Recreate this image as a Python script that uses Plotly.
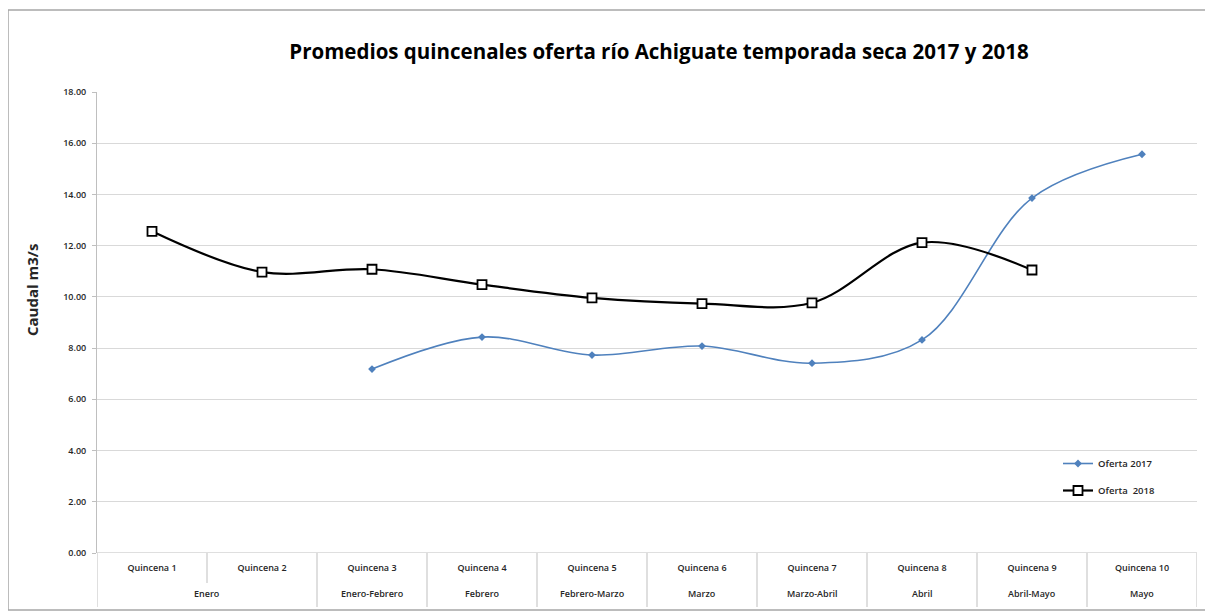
import plotly.graph_objects as go

categories = ["Quincena 1", "Quincena 2", "Quincena 3", "Quincena 4", "Quincena 5",
              "Quincena 6", "Quincena 7", "Quincena 8", "Quincena 9", "Quincena 10"]
months = ["Enero", "Enero-Febrero", "Febrero", "Febrero-Marzo", "Marzo",
          "Marzo-Abril", "Abril", "Abril-Mayo", "Mayo"]
month_pos = [0.5, 2, 3, 4, 5, 6, 7, 8, 9]
oferta_2017 = [None, None, 7.18, 8.43, 7.73, 8.08, 7.41, 8.32, 13.86, 15.57]
oferta_2018 = [12.56, 10.97, 11.08, 10.48, 9.96, 9.74, 9.77, 12.12, 11.05, None]
y_ticks = [0, 2, 4, 6, 8, 10, 12, 14, 16, 18]

GRID = "#d9d9d9"
AX = "#bfbfbf"
FONT = "Open Sans"
TXT = "#262626"

# page offset (body margin) compensation
OFF = 8
W, HGT = 1213 - OFF, 614 - OFF
ML, MT, MR, MB = 97 - OFF, 92 - OFF, 16, 61
PW = W - ML - MR
H = HGT - MT - MB

fig = go.Figure()
fig.add_trace(go.Scatter(
    x=categories, y=oferta_2017, name="Oferta 2017", mode="lines+markers",
    legendgroup="a",
    line=dict(color="#4f81bd", width=1.6, shape="spline", smoothing=1),
    marker=dict(symbol="diamond", size=6, color="#4f81bd"),
))
fig.add_trace(go.Scatter(
    x=categories, y=oferta_2018, name="Oferta  2018", mode="lines+markers",
    legendgroup="b",
    line=dict(color="#000000", width=2.2, shape="spline", smoothing=1),
    marker=dict(symbol="square", size=9, color="white", line=dict(color="black", width=1.8)),
))

row_px = 54
shapes = []
for i in range(11):
    xpos = -0.5 + i
    y1 = -row_px / H
    if i == 1:
        y1 = -30 / H
    shapes.append(dict(type="line", xref="x", yref="paper", x0=xpos, x1=xpos,
                       y0=0, y1=y1, line=dict(color=AX, width=1)))


def px_x(p):
    return (p - OFF - ML) / PW


def px_y(p):
    return (HGT - MB - (p - OFF)) / H


shapes.append(dict(type="rect", xref="paper", yref="paper",
                   x0=px_x(8), x1=px_x(1209), y0=px_y(610), y1=px_y(10),
                   line=dict(color="#a6a6a6", width=1.5)))

annotations = []
for m, p in zip(months, month_pos):
    annotations.append(dict(x=p, y=px_y(593), xref="x", yref="paper",
                            text=m, showarrow=False, yanchor="middle",
                            font=dict(family=FONT, size=9, color=TXT, weight=600)))
annotations.append(dict(x=px_x(32), y=px_y(290), xref="paper", yref="paper",
                        text="<b>Caudal m3/s</b>", showarrow=False, textangle=-90,
                        xanchor="center", yanchor="middle",
                        font=dict(family=FONT, size=15, color=TXT)))

fig.update_layout(
    width=W, height=HGT,
    margin=dict(l=ML, r=MR, t=MT, b=MB),
    paper_bgcolor="white", plot_bgcolor="white",
    title=dict(text="<b>Promedios quincenales oferta río Achiguate temporada seca 2017 y 2018</b>",
               x=((288 + 1030) / 2 - OFF) / W, xanchor="center",
               y=1 - (52 - OFF) / HGT, yanchor="middle",
               font=dict(family=FONT, size=20.5, color="#000000")),
    showlegend=True,
    legend=dict(x=px_x(1058), y=px_y(449), xanchor="left", yanchor="top",
                bgcolor="rgba(0,0,0,0)", font=dict(family=FONT, size=9.5, color=TXT, weight=600),
                itemwidth=30, tracegroupgap=8),
    xaxis=dict(type="category", categoryorder="array", categoryarray=categories,
               range=[-0.5, 9.5], showgrid=False, showline=False, ticks="",
               ticklabelstandoff=8, zeroline=False,
               tickfont=dict(family=FONT, size=9, color=TXT, weight=600)),
    yaxis=dict(range=[0, 18], tickvals=y_ticks, ticktext=[f"{v:.2f}" for v in y_ticks],
               showgrid=True, gridcolor=GRID, gridwidth=1, zeroline=False,
               showline=True, linecolor=AX, linewidth=1, ticks="outside", ticklen=4,
               tickcolor=AX, ticklabelstandoff=4,
               tickfont=dict(family=FONT, size=9, color=TXT, weight=600)),
    shapes=shapes, annotations=annotations,
)
fig.add_hline(y=0, line=dict(color=AX, width=1))

fig.write_html("out.html")
